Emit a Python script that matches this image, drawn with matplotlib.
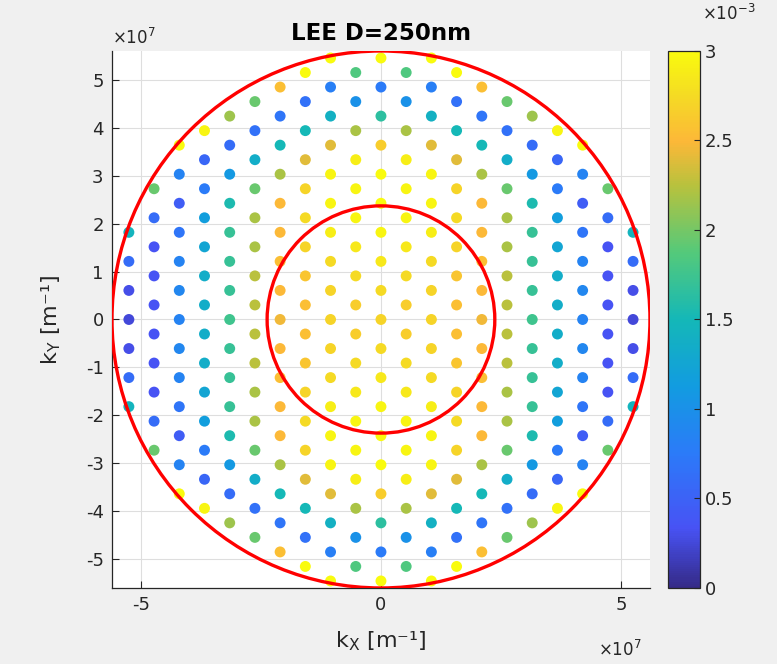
import numpy as np
import matplotlib
matplotlib.use("Agg")
import matplotlib.pyplot as plt
from matplotlib.colors import LinearSegmentedColormap
from matplotlib.patches import Circle

# ---- data (k in units of 1e7 m^-1, intensity in units of 1e-3) ----
nn_spacing = 0.606          # nearest-neighbour distance of the hexagonal k-lattice
outer_radius = 5.6          # n * k0 (extraction limit in the material)
inner_radius = 2.37         # k0 (air light cone)

# Intensity per lattice row for the first quadrant (kx >= 0, ky >= 0).
# Row j sits at ky = j * nn_spacing / 2; odd rows are shifted by half a column.
row_values = [
    [2.70, 2.70, 2.45, 1.75, 0.85, 0.25],   # row 0
    [2.65, 2.55, 2.25, 1.35, 0.35],         # row 1
    [2.75, 2.70, 2.50, 1.70, 0.90, 0.30],   # row 2
    [2.75, 2.60, 2.25, 1.35, 0.35],         # row 3
    [2.85, 2.75, 2.55, 1.70, 0.85, 0.60],   # row 4
    [2.85, 2.70, 2.20, 1.25, 0.35],         # row 5
    [2.95, 2.90, 2.50, 1.70, 0.70, 1.45],   # row 6
    [2.95, 2.75, 2.20, 1.15, 0.60],         # row 7
    [3.00, 2.95, 2.50, 1.55, 0.45],         # row 8
    [2.95, 2.70, 1.95, 0.75, 1.95],         # row 9
    [3.00, 2.95, 2.20, 1.10, 0.85],         # row 10
    [2.90, 2.40, 1.35, 0.55],               # row 11
    [2.65, 2.40, 1.50, 0.60, 3.00],         # row 12
    [2.20, 1.50, 0.65, 2.95],               # row 13
    [1.65, 1.40, 0.70, 2.15],               # row 14
    [1.00, 0.65, 1.95],                     # row 15
    [0.75, 0.80, 2.55],                     # row 16
    [1.85, 3.00],                           # row 17
    [3.00, 3.00],                           # row 18
]

x_ticks = [-5, 0, 5]
y_ticks = [-5, -4, -3, -2, -1, 0, 1, 2, 3, 4, 5]
cbar_ticks = [0, 0.5, 1, 1.5, 2, 2.5, 3]
cbar_tick_labels = ["0", "0.5", "1", "1.5", "2", "2.5", "3"]

# ---- build the full lattice by mirroring the quadrant ----
dx = nn_spacing * np.sqrt(3)
dy = nn_spacing / 2
kx, ky, val = [], [], []
for j, vals in enumerate(row_values):
    for k, v in enumerate(vals):
        x = (k + 0.5 * (j % 2)) * dx
        y = j * dy
        for sx in ((1,) if x == 0 else (1, -1)):
            for sy in ((1,) if y == 0 else (1, -1)):
                kx.append(sx * x)
                ky.append(sy * y)
                val.append(v)

# MATLAB-like parula colour map
parula = LinearSegmentedColormap.from_list("parula", [
    (0.000, (0.2081, 0.1663, 0.5292)),
    (0.110, (0.2810, 0.3228, 0.9579)),
    (0.250, (0.1700, 0.4800, 0.9750)),
    (0.375, (0.0700, 0.6100, 0.8800)),
    (0.500, (0.0800, 0.7200, 0.7200)),
    (0.625, (0.3300, 0.7900, 0.4800)),
    (0.750, (0.7200, 0.7600, 0.2400)),
    (0.833, (0.9900, 0.7200, 0.2200)),
    (0.920, (0.9600, 0.8600, 0.1400)),
    (1.000, (0.9763, 0.9831, 0.0538)),
])

txt = "#262626"
fig = plt.figure(figsize=(7.77, 6.64), dpi=100, facecolor="#f0f0f0")
ax = fig.add_axes([0.1441, 0.1145, 0.6924, 0.8087])
ax.set_facecolor("white")

sc = ax.scatter(kx, ky, c=val, cmap=parula, vmin=0, vmax=3, s=62,
                edgecolors="none", zorder=3)

for r in (outer_radius, inner_radius):
    ax.add_patch(Circle((0, 0), r, fill=False, edgecolor="red", lw=2.4, zorder=4))

ax.set_xlim(-outer_radius, outer_radius)
ax.set_ylim(-outer_radius, outer_radius)
ax.set_xticks(x_ticks)
ax.set_yticks(y_ticks)
ax.set_xticklabels([str(t) for t in x_ticks])
ax.set_yticklabels([str(t) for t in y_ticks])
ax.grid(True, color="#dedede", lw=0.8, zorder=0)
ax.set_axisbelow(True)
for side in ("top", "right"):
    ax.spines[side].set_visible(False)
for side in ("left", "bottom"):
    ax.spines[side].set_color(txt)
    ax.spines[side].set_linewidth(0.9)
ax.tick_params(direction="in", length=5, width=0.8, colors=txt,
               labelsize=13, pad=6)

ax.set_title("LEE D=250nm", fontsize=16.5, fontweight="bold", color="black", pad=8)
ax.set_xlabel("k$_\\mathrm{X}$ [m\u207b\u00b9]", fontsize=16, color=txt, labelpad=11)
ax.set_ylabel("k$_\\mathrm{Y}$ [m\u207b\u00b9]", fontsize=16, color=txt, labelpad=16)

# exponent labels
fig.text(112 / 777, 1 - 38 / 664, "\u00d710$^{7}$", fontsize=12, color=txt,
         ha="left", va="center")
fig.text(598 / 777, 1 - 650 / 664, "\u00d710$^{7}$", fontsize=12, color=txt,
         ha="left", va="center")

cax = fig.add_axes([0.8597, 0.1145, 0.0410, 0.8087])
cb = fig.colorbar(sc, cax=cax, ticks=cbar_ticks)
cb.ax.set_yticklabels(cbar_tick_labels)
cb.outline.set_edgecolor(txt)
cb.outline.set_linewidth(0.9)
cax.tick_params(direction="in", length=4, width=0.8, colors=txt, labelsize=13)
fig.text(702 / 777, 1 - 14 / 664, "\u00d710$^{-3}$", fontsize=12, color=txt,
         ha="left", va="center")

fig.savefig("out.png", dpi=100, facecolor=fig.get_facecolor())
